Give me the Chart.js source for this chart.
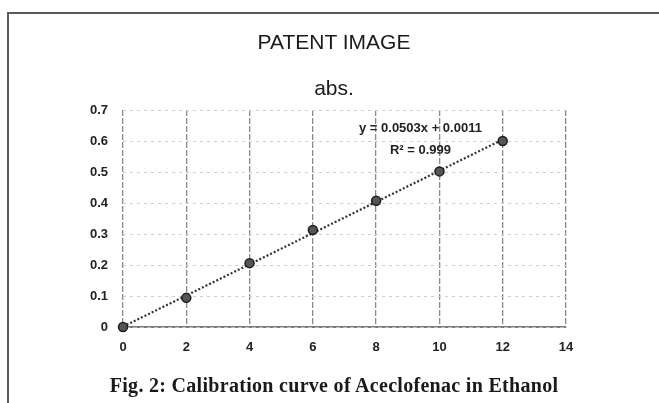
<!DOCTYPE html>
<html>
<head>
<meta charset="utf-8">
<script src="https://cdn.jsdelivr.net/npm/chart.js@4.4.1/dist/chart.umd.min.js"></script>
<style>
    html, body { margin: 0; padding: 0; background: #fff; }
    #wrap { position: relative; width: 659px; height: 403px; overflow: hidden; }
    #frame {
        position: absolute; left: 7px; top: 12px; width: 700px; height: 450px;
        border-left: 2px solid #5a5a5a; border-top: 2px solid #5a5a5a;
    }
    #chart { position: absolute; left: 0; top: 0; }
    .label {
        position: absolute; left: 0; width: 668px; text-align: center; color: #1a1a1a;
        font-family: "Liberation Sans", Arial, sans-serif; line-height: 1;
    }
    #title { top: 31px; font-size: 21px; }
    #subtitle { top: 77px; font-size: 21px; }
    #caption {
        top: 374px; font: bold 20px "Liberation Serif", "DejaVu Serif", serif; letter-spacing: 0.3px;
    }
</style>
</head>
<body>
<div id="wrap">
    <div id="frame"></div>
    <canvas id="chart" width="659" height="403"></canvas>
    <div id="title" class="label">PATENT IMAGE</div>
    <div id="subtitle" class="label">abs.</div>
    <div id="caption" class="label">Fig. 2: Calibration curve of Aceclofenac in Ethanol</div>
</div>
<script>
// concentration (x) and absorbance (y)
const concentration = [0, 2, 4, 6, 8, 10, 12];
const absorbance = [0, 0.094, 0.206, 0.313, 0.407, 0.502, 0.600];

// linear fit shown on the chart
const slope = 0.0503;
const intercept = 0.0011;
const fitRange = [0, 12];
const equationLines = ['y = 0.0503x + 0.0011', 'R\u00b2 = 0.999'];

const xTicks = [0, 2, 4, 6, 8, 10, 12, 14];
const yTicks = [0, 0.1, 0.2, 0.3, 0.4, 0.5, 0.6, 0.7];

const points = concentration.map((x, i) => ({ x: x, y: absorbance[i] }));
const trend = fitRange.map(x => ({ x: x, y: slope * x + intercept }));

// draws the trendline equation next to the line
const equationLabel = {
    id: 'equationLabel',
    afterDatasetsDraw(chart) {
        const { ctx, scales } = chart;
        const cx = scales.x.getPixelForValue(9.4);
        const cy = scales.y.getPixelForValue(0.639);
        ctx.save();
        ctx.font = 'bold 13px "Liberation Sans", Arial, sans-serif';
        ctx.fillStyle = '#222';
        ctx.textAlign = 'center';
        ctx.textBaseline = 'middle';
        equationLines.forEach((line, i) => ctx.fillText(line, cx, cy + i * 22));
        ctx.restore();
    }
};

new Chart(document.getElementById('chart'), {
    type: 'scatter',
    data: {
        datasets: [
            {
                label: 'Linear (abs.)',
                data: trend,
                showLine: true,
                borderColor: '#333',
                borderWidth: 2.2,
                borderDash: [2, 2],
                pointRadius: 0,
                clip: false,
                order: 2
            },
            {
                label: 'abs.',
                data: points,
                pointRadius: 4.5,
                pointBackgroundColor: '#555',
                pointBorderColor: '#1e1e1e',
                pointBorderWidth: 1.5,
                clip: false,
                order: 1
            }
        ]
    },
    options: {
        responsive: false,
        animation: false,
        layout: { padding: { left: 0, right: 93, top: 110, bottom: 46 } },
        plugins: {
            legend: { display: false },
            tooltip: { enabled: false }
        },
        scales: {
            x: {
                type: 'linear',
                min: 0,
                max: 14,
                afterFit: (s) => { s.height = 30; },
                afterBuildTicks: (s) => { s.ticks = xTicks.map(v => ({ value: v })); },
                ticks: {
                    padding: 13,
                    color: '#222',
                    font: { family: '"Liberation Sans", Arial, sans-serif', size: 13, weight: 'bold' }
                },
                grid: {
                    drawTicks: false,
                    color: '#8a8a8a',
                    lineWidth: 1.3
                },
                border: { display: true, color: '#7a7a7a', width: 1.5, dash: [6, 2] }
            },
            y: {
                min: 0,
                max: 0.7,
                afterFit: (s) => { s.width = 123; },
                afterBuildTicks: (s) => { s.ticks = yTicks.map(v => ({ value: v })); },
                ticks: {
                    padding: 15,
                    color: '#222',
                    font: { family: '"Liberation Sans", Arial, sans-serif', size: 13, weight: 'bold' },
                    callback: (v) => String(Math.round(v * 10) / 10)
                },
                grid: {
                    drawTicks: false,
                    color: (c) => c.tick && c.tick.value === 0 ? '#7a7a7a' : '#cfcfcf',
                    lineWidth: 1,
                    tickBorderDash: [3, 4]
                },
                border: { display: false, dash: [3, 4] }
            }
        }
    },
    plugins: [equationLabel]
});
</script>
</body>
</html>
